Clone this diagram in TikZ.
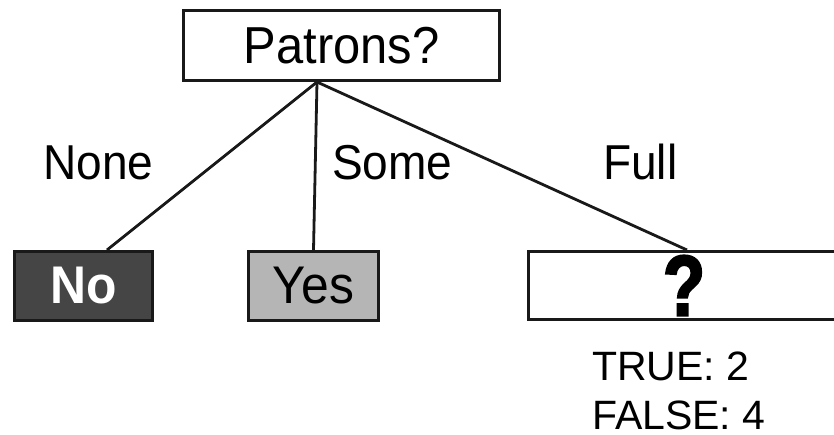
\documentclass[tikz,border=0pt]{standalone}
\usepackage{fontspec}
\usepackage{graphicx}
\setmainfont{Liberation Sans}
\newfontfamily\treefont[FakeStretch=0.94]{Liberation Sans}
\newfontfamily\qfont[FakeStretch=0.8,FakeBold=2.5]{Liberation Sans Bold}
\begin{document}
\begin{tikzpicture}[x=1pt,y=-1pt,
    box/.style={draw=black!90, line width=3pt, inner sep=0pt, minimum height=69pt},
    branch/.style={draw=black!90, line width=2.8pt},
    lbl/.style={anchor=base west, inner sep=0pt, font=\treefont\fontsize{49}{49}\selectfont}]
    \clip (0,0) rectangle (834,435);
    \fill[white] (0,0) rectangle (834,435);
    % Raiz
    \node[box, minimum width=316pt, minimum height=70pt,
          font=\treefont\fontsize{52}{52}\selectfont] (patrons) at (341.5,45.5) {Patrons?};
    % Hojas
    \node[box, minimum width=138pt, fill=black!73, text=white,
          font=\treefont\bfseries\fontsize{53}{53}\selectfont] (no) at (83.5,286) {No};
    \node[box, minimum width=130pt, fill=black!29,
          font=\treefont\fontsize{53}{53}\selectfont] (yes) at (313.5,286) {Yes};
    \node[box, minimum width=311pt, minimum height=68pt,
          font=\qfont\fontsize{86}{86}\selectfont] (full box) at (684,285.5) {?};
    % Ramas
    \draw[branch] ([xshift=-24.5pt]patrons.south) -- ([xshift=23.5pt]no.north);
    \draw[branch] ([xshift=-24.5pt]patrons.south) -- (yes.north);
    \draw[branch] ([xshift=-24.5pt]patrons.south) -- ([xshift=3pt]full box.north);
    \node[lbl] (none) at (43,180) {None};
    \node[lbl] (some) at (332,180) {Some};
    \node[lbl] (full) at (603,180) {Full};
    % Ejemplos
    \node[anchor=base west, inner sep=0pt, font=\fontsize{41}{41}\selectfont] (true) at (592,380) {TRUE: 2};
    \node[anchor=base west, inner sep=0pt, font=\fontsize{41}{41}\selectfont] (false) at (592,429) {FALSE: 4};
\end{tikzpicture}
\end{document}
